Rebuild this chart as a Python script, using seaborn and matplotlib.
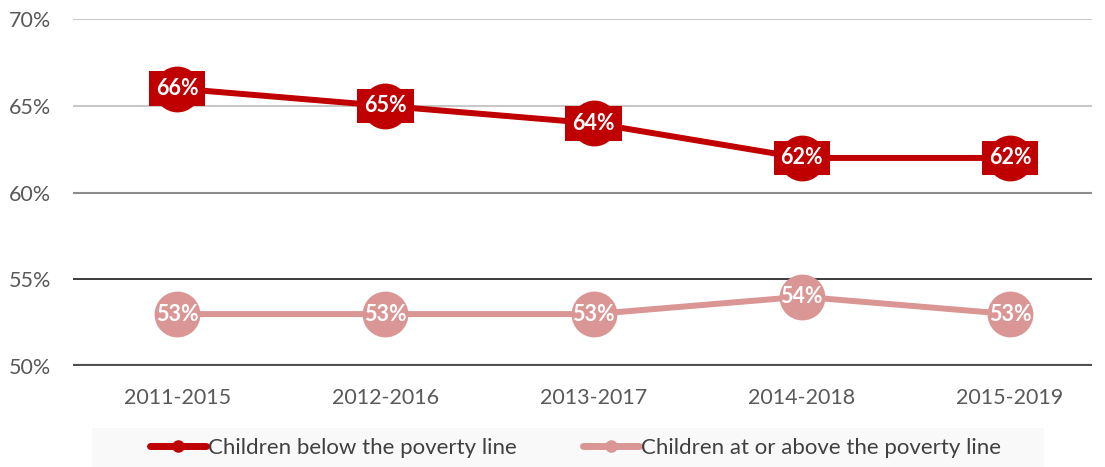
import seaborn as sns
import pandas as pd
import matplotlib.pyplot as plt
from matplotlib.lines import Line2D
from matplotlib.patches import Rectangle

periods = ['2011-2015', '2012-2016', '2013-2017', '2014-2018', '2015-2019']
below = [66, 65, 64, 62, 62]
above = [53, 53, 53, 54, 53]
names = ['Children below the poverty line', 'Children at or above the poverty line']
colors = ['#C00000', '#DA9694']

sns.set_style('white')
plt.rcParams['font.family'] = ['Lato', 'DejaVu Sans']

df = pd.DataFrame({'period': periods * 2,
                   'value': below + above,
                   'group': [names[0]] * 5 + [names[1]] * 5})

fig = plt.figure(figsize=(11.05, 4.67), dpi=100)
ax = fig.add_axes([73 / 1105, 0.216, (1092 - 73) / 1105, 0.743])

# grid lines
ax.axhline(70, color='#c8c8c8', lw=1.5, zorder=0)
ax.axhline(65, color='#c8c8c8', lw=1.5, zorder=0)
ax.axhline(60, color='#8c8c8c', lw=1.5, zorder=0)
ax.axhline(55, color='#1a1a1a', lw=1.2, zorder=0)
ax.axhline(50, color='#505050', lw=3, zorder=0)

for name, col in zip(names, colors):
    sub = df[df['group'] == name]
    sns.lineplot(data=sub, x='period', y='value', ax=ax, color=col, lw=4.3,
                 marker='o', markersize=33, markeredgewidth=0, legend=False, zorder=3)

for i, v in enumerate(below):
    ax.text(i, v, f'{v}%', ha='center', va='center', color='white', fontsize=15.5,
            fontweight='bold', zorder=5,
            bbox=dict(boxstyle='square,pad=0.32', fc=colors[0], ec='none'))
for i, v in enumerate(above):
    ax.text(i, v, f'{v}%', ha='center', va='center', color='white', fontsize=15.5,
            fontweight='bold', zorder=5)

ax.set_xlim(-0.5, 4.394)
ax.set_ylim(50, 70)
ax.set_yticks([50, 55, 60, 65, 70])
ax.set_yticklabels([f'{t}%' for t in [50, 55, 60, 65, 70]])
ax.tick_params(axis='both', length=0, labelsize=15.5, labelcolor='#595959')
ax.tick_params(axis='x', pad=16)
ax.tick_params(axis='y', pad=16)
ax.set_xlabel('')
ax.set_ylabel('')
sns.despine(ax=ax, left=True, bottom=True)

fig.add_artist(Rectangle((92 / 1105, 0), (1044 - 92) / 1105, 39 / 467,
                         transform=fig.transFigure, fc='#f9f9f9', ec='none', zorder=0))
handles = [Line2D([], [], color=c, lw=5, marker='o', markersize=8) for c in colors]
fig.legend(handles, names, loc='center', bbox_to_anchor=(0.521, 19 / 467), ncol=2,
           frameon=False, fontsize=16, handlelength=2.5, handletextpad=0.1,
           columnspacing=3.0, labelcolor='#404040')

fig.savefig('out.png', dpi=100)
